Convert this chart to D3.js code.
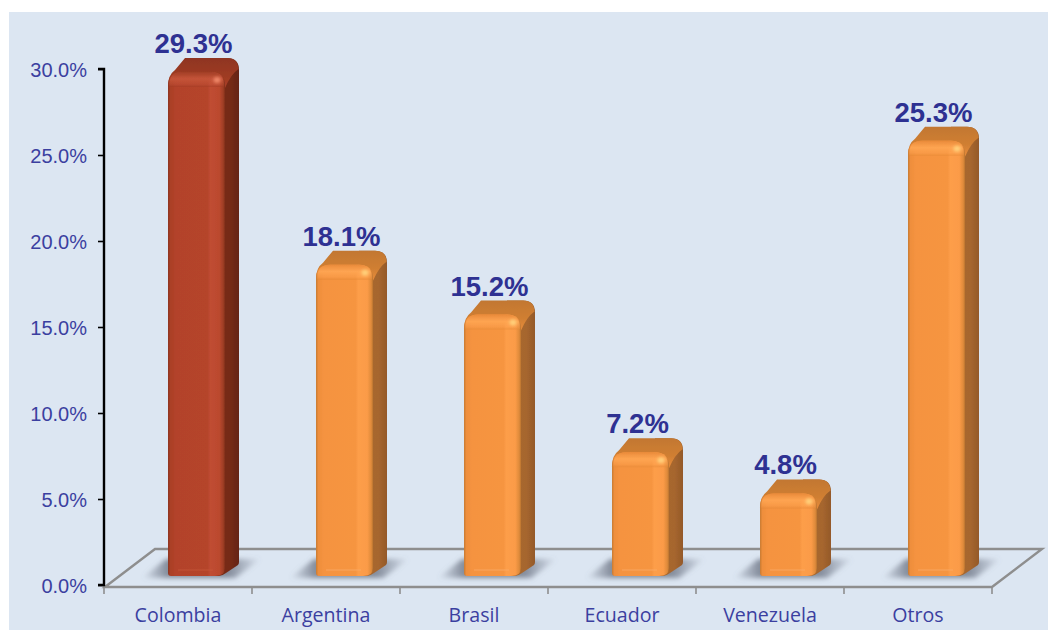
<!DOCTYPE html>
<html><head><meta charset="utf-8">
<script src="https://cdn.jsdelivr.net/npm/d3@7"></script>
<style>html,body{margin:0;padding:0;background:#fff}svg{display:block}</style>
</head><body><svg id="c" width="1048" height="630"></svg>
<script>
const categories=["Colombia","Argentina","Brasil","Ecuador","Venezuela","Otros"];
const shares=[29.3,18.1,15.2,7.2,4.8,25.3];
const yTicks=[0,5,10,15,20,25,30];
const valueLabels=["29.3%","18.1%","15.2%","7.2%","4.8%","25.3%"];
const highlighted=["Colombia"];

const W=1048,H=630;
const svg=d3.select("#c");
const y=d3.scaleLinear().domain([0,30]).range([585,69]);
const x=d3.scaleBand().domain(categories).range([104,992]);
const depthX=14,depthY=14,floorDX=50,floorDY=38,barW=57,barOff=64,baseLift=9;
const BLUE="#3B3FA0",INK="#2E3192",GREY="#8E8E8E";

const defs=svg.append("defs");
function hGrad(id,stops){const g=defs.append("linearGradient").attr("id",id);
  stops.forEach(s=>g.append("stop").attr("offset",s[0]).attr("stop-color",s[1]).attr("stop-opacity",s[2]===undefined?1:s[2]));}
function vGrad(id,stops){const g=defs.append("linearGradient").attr("id",id).attr("x1",0).attr("y1",0).attr("x2",0).attr("y2",1);
  stops.forEach(s=>g.append("stop").attr("offset",s[0]).attr("stop-color",s[1]).attr("stop-opacity",s[2]===undefined?1:s[2]));}
hGrad("frontO",[[0,"#C67A33"],[.04,"#EE8E3C"],[.14,"#F59340"],[.70,"#F69541"],[.74,"#FD9E4A"],[.9,"#FB9B47"],[.97,"#DE8A3B"],[1,"#B8732F"]]);
hGrad("frontR",[[0,"#8C3420"],[.04,"#AA3F26"],[.14,"#B3432A"],[.70,"#B5442B"],[.74,"#C04D32"],[.9,"#BB492E"],[.97,"#9E3D25"],[1,"#7E2F1B"]]);
hGrad("sideO",[[0,"#A9682E"],[.7,"#A6662E"],[1,"#94592A"]]);
hGrad("sideR",[[0,"#7C2E1A"],[.7,"#752B18"],[1,"#652414"]]);
vGrad("topO",[[0,"#C27730"],[.6,"#D07F33"],[1,"#E88C3B"]]);
vGrad("topR",[[0,"#8F3520"],[.6,"#9E3B22"],[1,"#AB4028"]]);
// soft rounded shoulder across the top of the front face
vGrad("capO",[[0,"#E98A39",1],[.45,"#FFA653",.9],[.8,"#FFA653",.35],[1,"#E08432",.45]]);
vGrad("capR",[[0,"#A13E25",1],[.45,"#C6553A",.9],[.8,"#C6553A",.35],[1,"#9A3A22",.45]]);
const sh=defs.append("linearGradient").attr("id","shadow");
[[0,"#6c7484",0],[.22,"#6c7484",.8],[.72,"#6c7484",.8],[1,"#6c7484",0]].forEach(s=>sh.append("stop").attr("offset",s[0]).attr("stop-color",s[1]).attr("stop-opacity",s[2]));
function blur(id,sd){defs.append("filter").attr("id",id).attr("x","-60%").attr("y","-60%").attr("width","220%").attr("height","220%")
  .append("feGaussianBlur").attr("stdDeviation",sd);}
blur("blurS",2.4);blur("soft",.6);blur("soft3",1.7);

svg.append("rect").attr("x",9).attr("y",12).attr("width",W-9).attr("height",H-12).attr("fill","#DCE6F2");

// floor
const fy=y(0)+2, bx=x.range()[0]+1, ex=x.range()[1];
svg.append("path").attr("fill","none").attr("stroke",GREY).attr("stroke-width",2.4)
 .attr("d",`M${bx},${fy}L${bx+floorDX},${fy-floorDY}H${ex+floorDX}L${ex},${fy}Z`);

// x axis
const ax=svg.append("g").attr("transform",`translate(0,${fy})`)
 .call(d3.axisBottom(x).tickSize(0).tickPadding(21));
ax.select(".domain").remove();
ax.selectAll("text").attr("font-family","'Open Sans',sans-serif").attr("font-size",19.6).attr("fill",BLUE);
const edges=categories.map(c=>x(c)).concat([x.range()[1]]);
svg.append("g").selectAll("line").data(edges).join("line")
 .attr("x1",d=>d).attr("x2",d=>d).attr("y1",fy).attr("y2",fy+7).attr("stroke",GREY).attr("stroke-width",1.6);

// y axis
const ay=svg.append("g").attr("transform",`translate(${x.range()[0]},0)`)
 .call(d3.axisLeft(y).tickValues(yTicks).tickFormat(d=>d.toFixed(1)+"%").tickSize(6).tickPadding(11));
ay.select(".domain").attr("stroke","#000").attr("stroke-width",2.4).attr("d",`M-6,${y(30)}H0V${y(0)}H-6`);
ay.selectAll(".tick line").attr("stroke","#000").attr("stroke-width",1.6);
ay.selectAll("text").attr("font-family","'Liberation Sans',Arial,sans-serif").attr("font-size",20).attr("fill",BLUE).attr("dy","0.38em");

// bars
const data=categories.map((c,i)=>({c,v:shares[i],label:valueLabels[i]}));
const g=svg.append("g").selectAll("g").data(data).join("g");
g.each(function(d){
  const s=d3.select(this), red=highlighted.includes(d.c);
  const x0=x(d.c)+barOff, x1=x0+barW, yb=y(0)-baseLift, yt=yb-(y(0)-y(d.v));
  const r=14, xb=x1+depthX, yTop=yt-depthY;
  // shadow
  s.append("path").attr("fill","url(#shadow)").attr("filter","url(#blurS)")
   .attr("d",`M${x0-26},${yb+2}L${x0-2},${yb-17}H${x1+36}L${x1+10},${yb+2}Z`);
  // side
  s.append("path").attr("fill",`url(#${red?"sideR":"sideO"})`).attr("filter","url(#soft)")
   .attr("d",`M${x1-14},${yb}H${x1-6}Q${x1-3},${yb} ${x1+1},${yb-3}L${xb-1},${yb-depthY+3}Q${xb},${yb-depthY+2} ${xb},${yb-depthY}V${yTop+12}Q${xb},${yTop} ${xb-12},${yTop}H${x1-14}Z`);
  // top
  s.append("path").attr("fill",`url(#${red?"topR":"topO"})`).attr("filter","url(#soft)")
   .attr("d",`M${x0},${yt+r}Q${x0},${yt+3} ${x0+7},${yt-2}L${x0+depthX+3},${yTop}H${xb-12}Q${xb-1},${yTop} ${xb-.5},${yTop+11}Q${x1+6},${yt+2} ${x1},${yt+r+2}Z`);
  // front
  s.append("path").attr("fill",`url(#${red?"frontR":"frontO"})`).attr("filter","url(#soft)")
   .attr("d",`M${x0},${yb-3}V${yt+r}Q${x0},${yt} ${x0+r},${yt}H${x1-r}Q${x1},${yt} ${x1},${yt+r}V${yb-8}Q${x1},${yb} ${x1-10},${yb}H${x0+3}Q${x0},${yb} ${x0},${yb-3}Z`);
  // shoulder
  s.append("path").attr("fill",`url(#${red?"capR":"capO"})`).attr("filter","url(#soft)")
   .attr("d",`M${x0+1},${yt+15}V${yt+r}Q${x0+1},${yt} ${x0+r},${yt}H${x1-r}Q${x1-1},${yt} ${x1-1},${yt+r}V${yt+15}Z`);
  // specular spot
  s.append("ellipse").attr("cx",x1-8).attr("cy",yt+8).attr("rx",3.5).attr("ry",3)
   .attr("fill",red?"#EE8668":"#FFD07A").attr("filter","url(#soft3)");
  // base lip
  s.append("path").attr("fill","none").attr("stroke",red?"#8E2F1A":"#D47C2C").attr("stroke-width",1.4).attr("filter","url(#soft)")
   .attr("d",`M${x0+2},${yb-.5}H${x1-10}`);
  s.append("line").attr("x1",x0+10).attr("x2",x1-12).attr("y1",yb-6).attr("y2",yb-6)
   .attr("stroke",red?"#C9583C":"#FBAE6C").attr("stroke-width",1.4).attr("stroke-opacity",.5);
  // value label
  s.append("text").attr("x",x(d.c)+89.5).attr("y",yTop-5).attr("text-anchor","middle")
   .attr("font-family","'Liberation Sans',Arial,sans-serif").attr("font-weight","bold").attr("font-size",27.5)
   .attr("fill",INK).text(d.label);
});
</script></body></html>
